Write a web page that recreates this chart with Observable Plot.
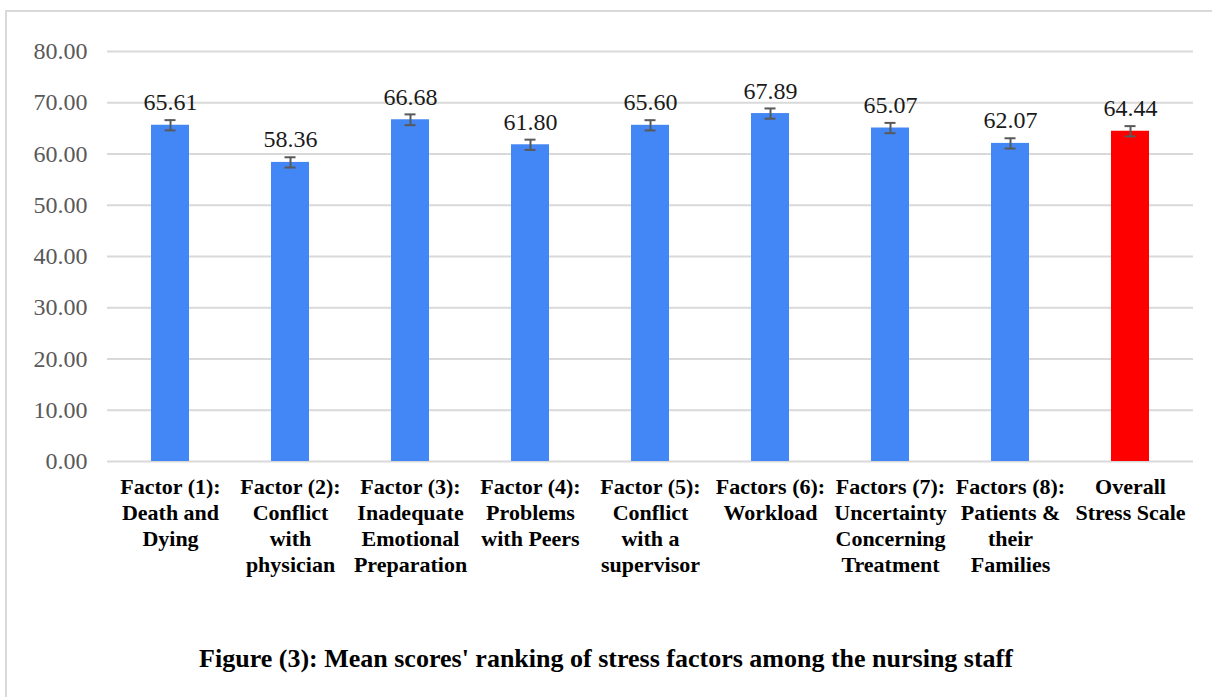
<!DOCTYPE html>
<html>
<head>
<meta charset="utf-8">
<script src="https://cdn.jsdelivr.net/npm/d3@7"></script>
<script src="https://cdn.jsdelivr.net/npm/@observablehq/plot@0.6"></script>
<style>
  html, body { margin: 0; padding: 0; background: #fff; }
  body { width: 1212px; height: 697px; position: relative; overflow: hidden; }
  #frame { position: absolute; left: 5px; top: 10px; width: 1220px; height: 700px; border: 2px solid #d9d9d9; box-sizing: border-box; }
  #chart { position: absolute; left: 0; top: 0; }
  #chart svg text { font-family: 'Liberation Serif'; }
  #caption { position: absolute; left: 0; width: 1212px; top: 646px; line-height: 26px; text-align: center;
    font-family: 'Liberation Serif'; font-weight: bold; font-size: 26px;
    word-spacing: 0px; white-space: nowrap; color: #000; }
</style>
</head>
<body>
<div id="frame"></div>
<div id="chart"></div>
<div id="caption">Figure (3): Mean scores' ranking of stress factors among the nursing staff</div>
<script>
const categories = [
  "Factor (1):\nDeath and\nDying",
  "Factor (2):\nConflict\nwith\nphysician",
  "Factor (3):\nInadequate\nEmotional\nPreparation",
  "Factor (4):\nProblems\nwith Peers",
  "Factor (5):\nConflict\nwith a\nsupervisor",
  "Factors (6):\nWorkload",
  "Factors (7):\nUncertainty\nConcerning\nTreatment",
  "Factors (8):\nPatients &\ntheir\nFamilies",
  "Overall\nStress Scale"
];
const means = [65.61, 58.36, 66.68, 61.80, 65.60, 67.89, 65.07, 62.07, 64.44];
const errors = [1.0, 1.0, 1.05, 1.0, 1.0, 1.0, 1.0, 1.0, 1.0];
const barColors = ["#4287f5", "#4287f5", "#4287f5", "#4287f5", "#4287f5", "#4287f5", "#4287f5", "#4287f5", "#ff0000"];
const yTicks = [0, 10, 20, 30, 40, 50, 60, 70, 80];

const serif = "Liberation Serif";
const data = categories.map((c, i) => ({cat: c, mean: means[i], err: errors[i], color: barColors[i]}));

const chart = Plot.plot({
  width: 1212,
  height: 600,
  marginLeft: 107,
  marginRight: 19,
  marginTop: 51,
  marginBottom: 139,
  style: {fontFamily: serif, background: "transparent"},
  x: {domain: categories, paddingInner: 0.685, paddingOuter: 0.3425, label: null},
  y: {domain: [0, 80], ticks: yTicks, label: null},
  marks: [
    Plot.gridY(yTicks, {stroke: "#d9d9d9", strokeOpacity: 1, strokeWidth: 2}),
    Plot.axisY(yTicks, {tickSize: 0, tickPadding: 20, fontSize: 24, fontFamily: serif, fill: "#595959", tickFormat: d => d.toFixed(2)}),
    Plot.barY(data, {x: "cat", y: "mean", fill: "color"}),
    Plot.ruleX(data, {x: "cat", y1: d => d.mean - d.err, y2: d => d.mean + d.err, stroke: "#595959", strokeWidth: 2}),
    Plot.tickY(data, {x: "cat", y: d => d.mean - d.err, stroke: "#595959", strokeWidth: 2, insetLeft: 13.5, insetRight: 13.5}),
    Plot.tickY(data, {x: "cat", y: d => d.mean + d.err, stroke: "#595959", strokeWidth: 2, insetLeft: 13.5, insetRight: 13.5}),
    Plot.text(data, {x: "cat", y: "mean", text: d => d.mean.toFixed(2), dy: -15, fontSize: 24, fontFamily: serif, fill: "#1a1a1a", lineAnchor: "bottom"}),
    Plot.axisX({tickSize: 0, tickPadding: 14, fontSize: 22, fontFamily: serif, fontWeight: "bold", fill: "#000", lineHeight: 1.18, lineAnchor: "top"})
  ]
});
document.getElementById("chart").appendChild(chart);
</script>
</body>
</html>
